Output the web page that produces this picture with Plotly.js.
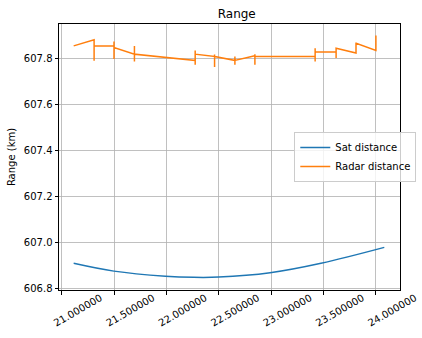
<!DOCTYPE html>
<html><head><meta charset="utf-8">
<script src="https://cdn.plot.ly/plotly-3.0.1.min.js"></script>
<style>html,body{margin:0;padding:0;background:#fff}#c{width:422px;height:338px}</style>
</head><body><div id="c"></div>
<script>
const satX = [21.115, 21.499, 21.991, 22.26, 22.50, 22.99, 23.476, 24.08];
const satY = [606.909, 606.875, 606.853, 606.848, 606.849, 606.868, 606.909, 606.978];

const radarX = [21.115, 21.31, 21.31, 21.31, 21.5, 21.5, 21.5, 21.5, 21.695, 21.695, 21.695, 21.695,
  22.275, 22.275, 22.275, 22.275, 22.46, 22.46, 22.46, 22.46, 22.654, 22.654, 22.654, 22.654,
  22.845, 22.845, 22.845, 22.845, 23.42, 23.42, 23.42, 23.42, 23.62, 23.62, 23.62, 23.62,
  23.81, 23.81, 23.81, 24.0, 24.0];
const radarY = [607.853, 607.880, 607.788, 607.853, 607.853, 607.872, 607.796, 607.846, 607.817, 607.853, 607.785, 607.817,
  607.790, 607.771, 607.833, 607.817, 607.807, 607.816, 607.761, 607.807, 607.790, 607.771, 607.807, 607.790,
  607.810, 607.771, 607.817, 607.807, 607.807, 607.785, 607.843, 607.826, 607.826, 607.800, 607.843, 607.843,
  607.822, 607.868, 607.865, 607.833, 607.898];

const xTicks = [21.0, 21.5, 22.0, 22.5, 23.0, 23.5, 24.0];
const xTickText = ["21.000000", "21.500000", "22.000000", "22.500000", "23.000000", "23.500000", "24.000000"];
const yTicks = [606.8, 607.0, 607.2, 607.4, 607.6, 607.8];
const yTickText = ["606.8", "607.0", "607.2", "607.4", "607.6", "607.8"];

const traces = [
  {x: satX, y: satY, mode: 'lines', name: 'Sat distance', line: {color: '#1f77b4', width: 1.5, shape: 'spline'}},
  {x: radarX, y: radarY, mode: 'lines', name: 'Radar distance', line: {color: '#ff7f0e', width: 1.5}}
];
const axisCommon = {
  showline: true, mirror: true, linecolor: '#000', linewidth: 1,
  showgrid: true, gridcolor: '#b0b0b0', gridwidth: 0.8,
  ticks: 'outside', ticklen: 3.5, tickcolor: '#000', zeroline: false,
  tickfont: {family: 'DejaVu Sans', size: 10, color: '#000'}
};
const layout = {
  width: 422, height: 338,
  margin: {l: 59, r: 6, t: 24, b: 48},
  paper_bgcolor: '#fff', plot_bgcolor: '#fff',
  title: {text: 'Range', font: {family: 'DejaVu Sans', size: 12, color: '#000'}, x: 0.561, xanchor: 'center', y: 0.958, yanchor: 'middle'},
  xaxis: Object.assign({}, axisCommon, {range: [20.975, 24.23], tickmode: 'array', tickvals: xTicks, ticktext: xTickText, tickangle: -30, ticklabelshift: 39, ticklabelstandoff: -6}),
  yaxis: Object.assign({}, axisCommon, {range: [606.793, 607.948], tickmode: 'array', tickvals: yTicks, ticktext: yTickText,
    title: {text: 'Range (km)', font: {family: 'DejaVu Sans', size: 10, color: '#000'}, standoff: 6}}),
  showlegend: true,
  legend: {x: 0.69, y: 0.594, xanchor: 'left', yanchor: 'top', bgcolor: 'rgba(255,255,255,0.8)', bordercolor: '#cccccc', borderwidth: 1,
    font: {family: 'DejaVu Sans', size: 10, color: '#000'}, tracegroupgap: 0}
};
Plotly.newPlot('c', traces, layout, {displayModeBar: false, staticPlot: true});
</script></body></html>
